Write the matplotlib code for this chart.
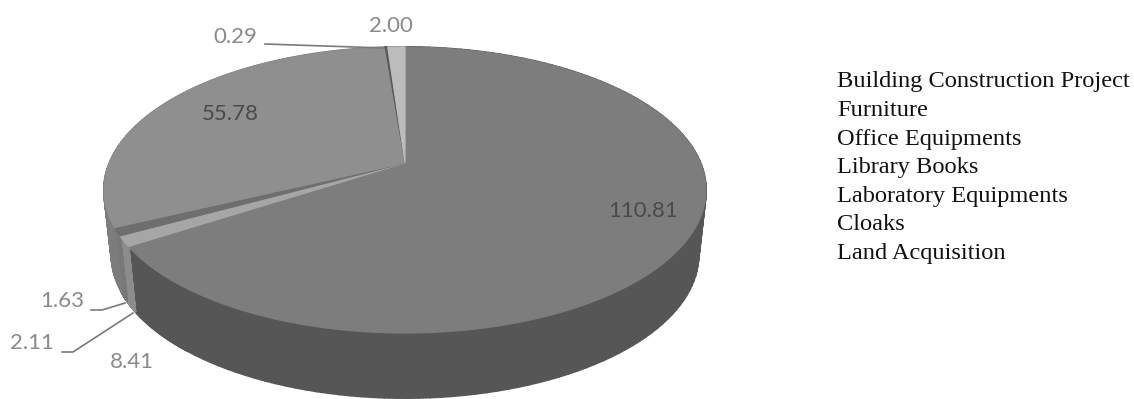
import numpy as np
import matplotlib
matplotlib.use("Agg")
import matplotlib.pyplot as plt
from matplotlib.patches import Polygon
from matplotlib.collections import PolyCollection

categories = ["Building Construction Project", "Furniture", "Office Equipments",
              "Library Books", "Laboratory Equipments", "Cloaks", "Land Acquisition"]
# clockwise from 12 o'clock, in the order the slices appear
slice_values = [110.81, 8.41, 2.11, 1.63, 55.78, 0.29, 2.00]
top_colors = ["#7d7d7d", "#7d7d7d", "#a6a6a6", "#6e6e6e", "#8f8f8f", "#5a5a5a", "#bcbcbc"]
wall_colors = ["#565656", "#565656", "#8c8c8c", "#787878", "#7c7c7c", "#5a5a5a", "#8a8a8a"]
value_labels = [(643, 211, "#4a4a4a"), (132, 362, "#8a8a8a"), (32, 343, "#8a8a8a"),
                (62, 301, "#8a8a8a"), (230, 114, "#4a4a4a"), (235, 37, "#8a8a8a"),
                (391, 26, "#8a8a8a")]
leaders = [[(62, 352), (73, 352), (133, 313)],
           [(91, 310), (102, 310), (125, 303)],
           [(265, 44), (384, 48)]]

CX, CY, A, B, K, DEPTH, SHRINK = 405, 163, 295.6, 137.9, 0.189, 65, 0.975


def project(theta):
    u, v = np.sin(theta), np.cos(theta)
    d = 1 + K * v
    return CX + A * u / d, CY - B * v / d


fig = plt.figure(figsize=(11.34, 3.99), dpi=100)
ax = fig.add_axes([0, 0, 1, 1])
ax.set_xlim(0, 1134)
ax.set_ylim(399, 0)
ax.axis("off")

edges = np.cumsum([0] + slice_values) / sum(slice_values) * 2 * np.pi
for i, color in enumerate(wall_colors):
    th = np.linspace(edges[i], edges[i + 1], 120)
    x, y = project(th)
    xb = CX + (x - CX) * SHRINK
    yb = y + DEPTH
    quads = [[(x[j], y[j]), (x[j + 1], y[j + 1]), (xb[j + 1], yb[j + 1]), (xb[j], yb[j])]
             for j in range(len(th) - 1)]
    ax.add_collection(PolyCollection(quads, facecolors=color, edgecolors=color,
                                     linewidths=1.4, zorder=1))
for i, color in enumerate(top_colors):
    th = np.linspace(edges[i], edges[i + 1], 120)
    x, y = project(th)
    pts = np.r_[[[CX, CY]], np.c_[x, y]]
    ax.add_patch(Polygon(pts, closed=True, fc=color, ec=color, lw=0.8, zorder=2))

for val, (x, y, c) in zip(slice_values, value_labels):
    ax.text(x, y, f"{val:.2f}", family="Lato", fontsize=16, color=c,
            ha="center", va="center", zorder=4)
for seg in leaders:
    xs, ys = zip(*seg)
    ax.plot(xs, ys, color="#7a7a7a", lw=1.2, zorder=3)

for i, name in enumerate(categories):
    ax.text(837, 87.3 + i * 28.6, name, family="Liberation Serif", fontsize=17.6,
            color="#111111", ha="left", va="baseline", zorder=4)

fig.savefig("out.png", dpi=100)
